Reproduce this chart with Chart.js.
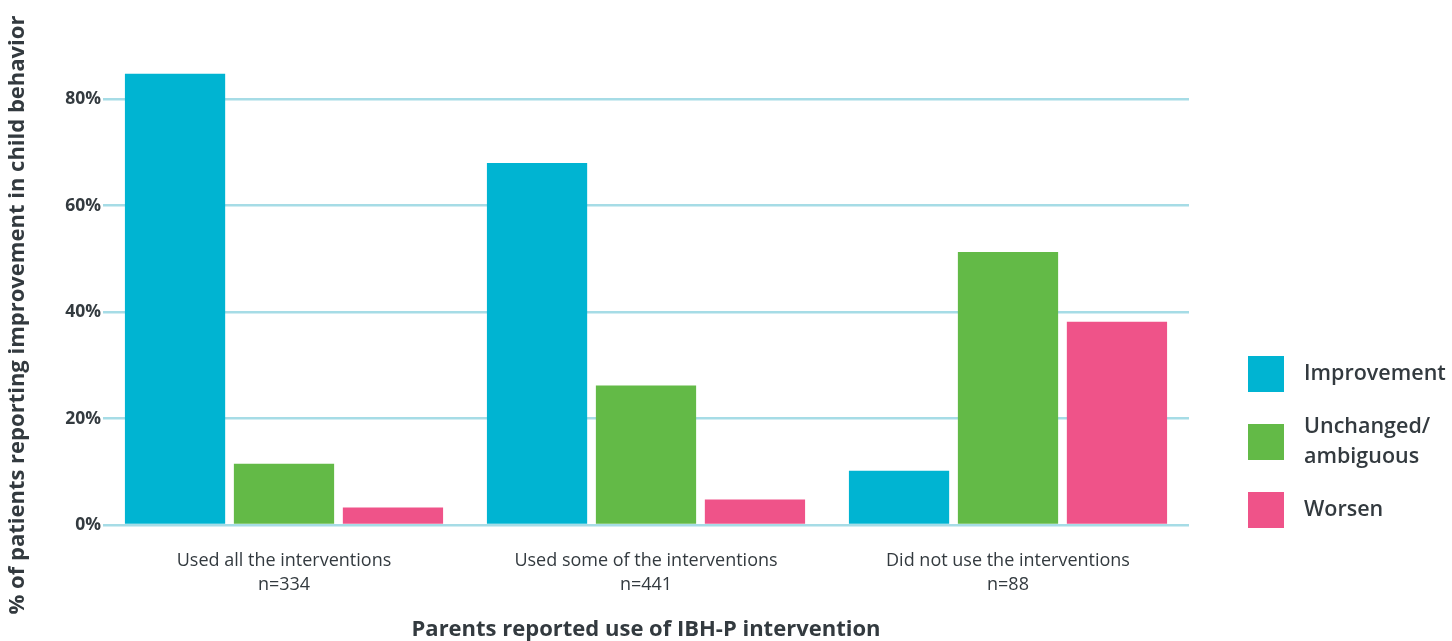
<!DOCTYPE html>
<html>
<head>
<meta charset="utf-8">
<script src="https://cdn.jsdelivr.net/npm/chart.js@4.4.1/dist/chart.umd.min.js"></script>
<style>
    html, body { margin: 0; padding: 0; background: #ffffff; }
    #wrap { width: 1452px; height: 641px; position: relative; }
</style>
</head>
<body>
<div id="wrap"><canvas id="chart"></canvas></div>
<script>
// Chart data
const categories = ["Used all the interventions", "Used some of the interventions", "Did not use the interventions"];
const sampleSizes = ["n=334", "n=441", "n=88"];
const seriesNames = ["Improvement", "Unchanged/\nambiguous", "Worsen"];
const improvement = [84.8, 68.0, 10.2];
const unchanged = [11.5, 26.2, 51.3];
const worsen = [3.3, 4.8, 38.2];
const yTicks = [0, 20, 40, 60, 80];
const yTitle = "% of patients reporting improvement in child behavior";
const xTitle = "Parents reported use of IBH-P intervention";

const colors = ["#00b4d2", "#63ba47", "#ef5389"];
const textColor = "#333a3f";
const fontFamily = "'Open Sans', sans-serif";

/**
 * Draws the legend on the right, with multi-line labels.
 */
const sideLegend = {
    id: "sideLegend",
    afterDraw(chart)
    {
        const ctx  = chart.ctx;
        const area = chart.chartArea;
        const box  = 36;
        const x    = area.right + 59;
        const n    = chart.data.datasets.length;

        ctx.save();
        ctx.font = "600 21.5px " + fontFamily;
        ctx.textBaseline = "middle";

        chart.data.datasets.forEach((ds, i) => {
            const cy    = area.bottom - 15 - (n - 1 - i) * 68;
            const lines = ds.label.split("\n");

            ctx.fillStyle = ds.backgroundColor;
            ctx.fillRect(x, cy - box / 2, box, box);

            ctx.fillStyle = textColor;
            lines.forEach((line, j) => {
                const ty = cy + (j - (lines.length - 1) / 2) * 30;
                ctx.fillText(line, x + 56, ty);
            });
        });
        ctx.restore();
    }
};

/**
 * Draws the rotated y axis title, which sits lower than the plot centre.
 */
const yAxisTitle = {
    id: "yAxisTitle",
    afterDraw(chart)
    {
        const ctx = chart.ctx;

        ctx.save();
        ctx.translate(18, 315);
        ctx.rotate(-Math.PI / 2);
        ctx.font = "bold 22px " + fontFamily;
        ctx.fillStyle = textColor;
        ctx.textAlign = "center";
        ctx.textBaseline = "middle";
        ctx.fillText(yTitle, 0, 0);
        ctx.restore();
    }
};

const seriesValues = [improvement, unchanged, worsen];

new Chart(document.getElementById("chart"), {
    type: "bar",
    data: {
        labels: categories.map((c, i) => [c, sampleSizes[i]]),
        datasets: seriesNames.map((name, i) => ({
            label: name,
            data: seriesValues[i],
            backgroundColor: colors[i],
            borderWidth: 0,
            categoryPercentage: 0.903,
            barPercentage: 0.92
        }))
    },
    options: {
        responsive: true,
        maintainAspectRatio: false,
        animation: false,
        layout: {
            padding: { top: 46, right: 263, bottom: 0, left: 0 }
        },
        plugins: {
            legend: { display: false },
            tooltip: { enabled: false }
        },
        scales: {
            x: {
                afterFit: (axis) => { axis.height = 116; },
                grid: { display: false },
                border: { display: false },
                ticks: {
                    color: textColor,
                    padding: 16,
                    font: { family: fontFamily, size: 18, lineHeight: 1.33 }
                },
                title: {
                    display: true,
                    text: xTitle,
                    color: textColor,
                    padding: { top: 0, bottom: 0 },
                    font: { family: fontFamily, size: 22, weight: "bold", lineHeight: 1 }
                }
            },
            y: {
                min: 0,
                max: 90,
                afterFit: (axis) => { axis.width = 103; },
                afterBuildTicks: (axis) => {
                    axis.ticks = yTicks.map(v => ({ value: v }));
                },
                grid: {
                    color: "#a6dce6",
                    lineWidth: 2.5,
                    drawTicks: false
                },
                border: { display: false },
                ticks: {
                    color: textColor,
                    padding: 2,
                    font: { family: fontFamily, size: 17.5, weight: "bold" },
                    callback: (v) => v + "%"
                },
                title: { display: false }
            }
        }
    },
    plugins: [sideLegend, yAxisTitle]
});
</script>
</body>
</html>
